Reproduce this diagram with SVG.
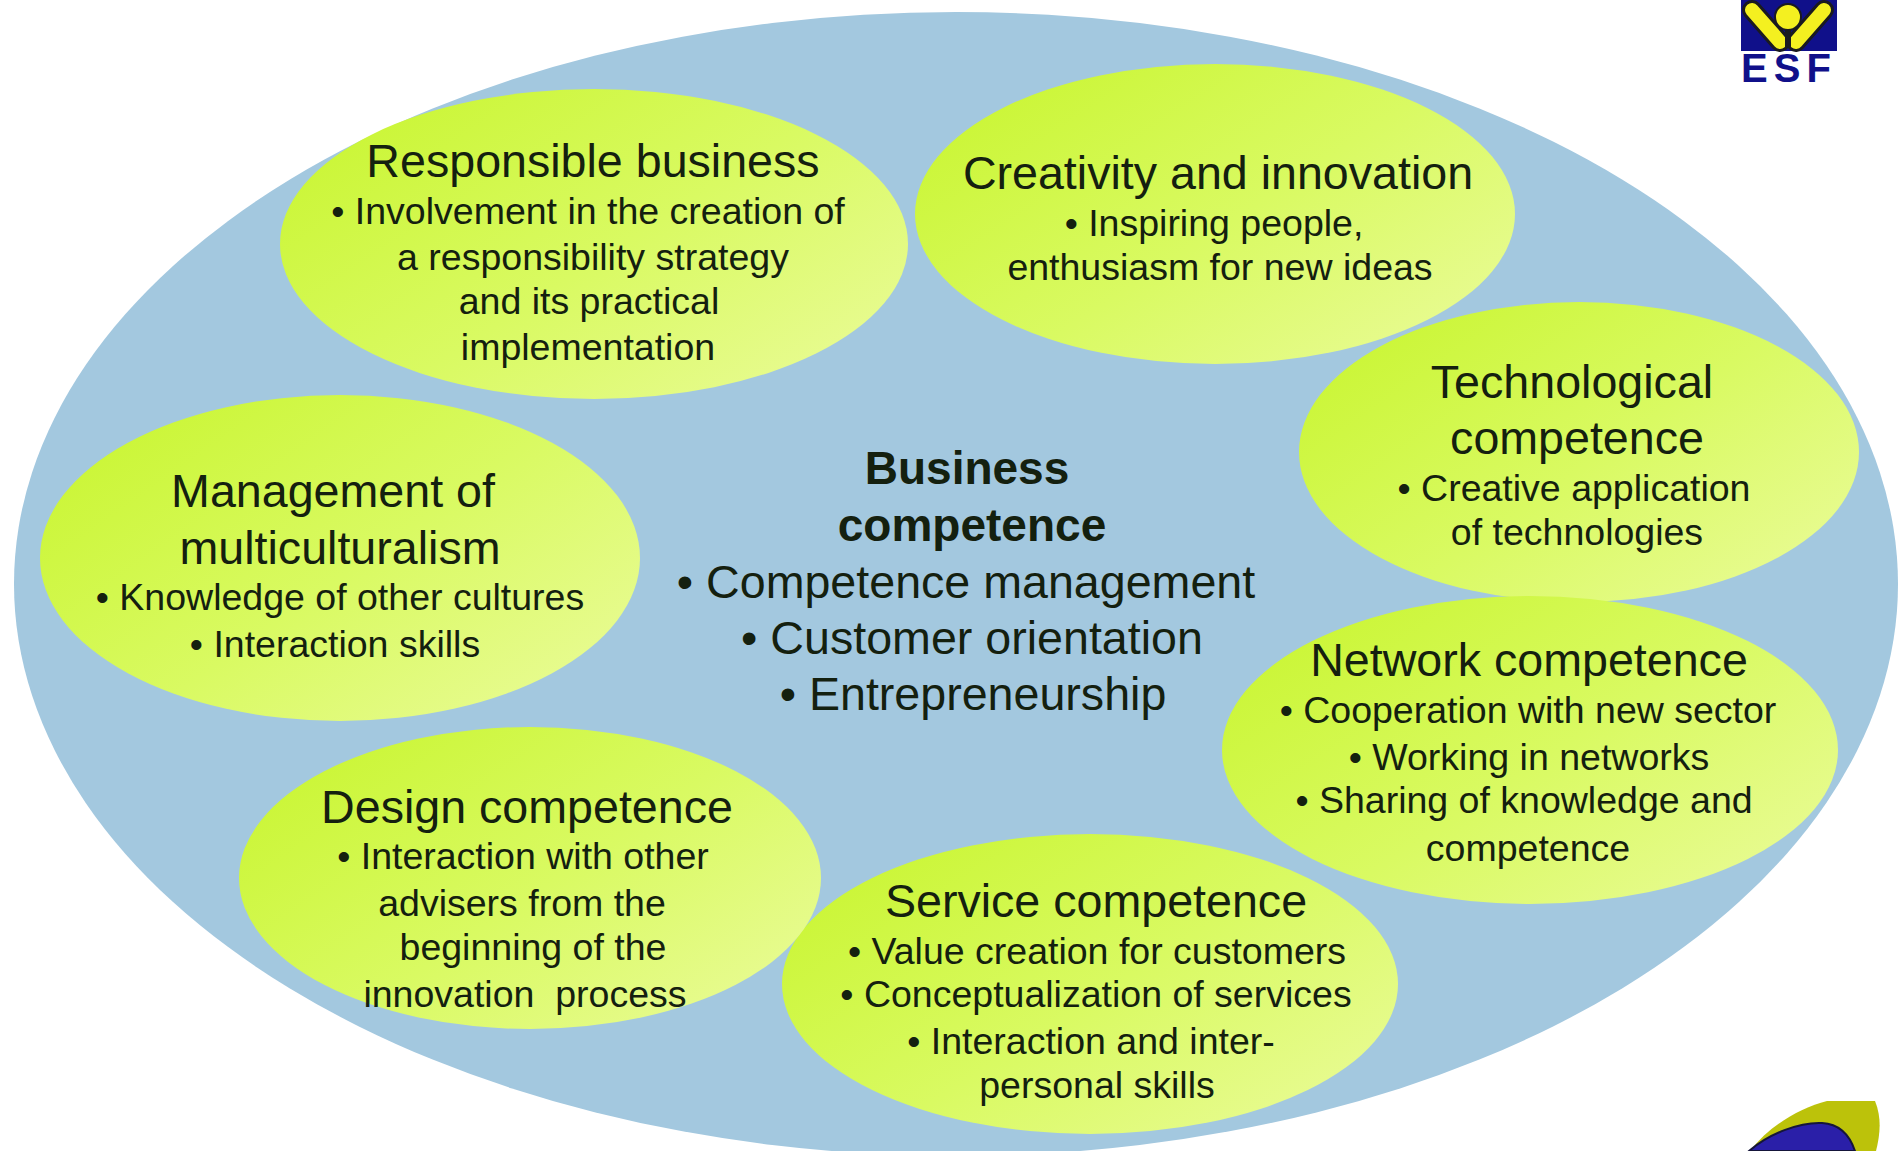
<svg xmlns="http://www.w3.org/2000/svg" width="1898" height="1151" viewBox="0 0 1898 1151">
<style>
text{font-family:"Liberation Sans",Arial,sans-serif;fill:#14200f;text-anchor:middle}
.t{font-size:46.6px}
.b{font-size:37.5px}
.c{font-size:46.6px}
.h{font-size:46px;font-weight:bold}
.n{fill:url(#g)}
</style>
<defs>
<linearGradient id="g" x1="0.1" y1="0.2" x2="0.95" y2="0.85">
<stop offset="0" stop-color="#ccf63a"/><stop offset="0.5" stop-color="#d9fa62"/><stop offset="1" stop-color="#e8fb92"/>
</linearGradient>
</defs>
<rect width="1898" height="1151" fill="#fff"/>
<ellipse id="outer" cx="956" cy="584" rx="942" ry="572" fill="#a3c8df"/>
<g id="connectors"></g>
<g id="center">
<text class="h" x="967" y="484">Business</text>
<text class="h" x="972" y="541">competence</text>
<text class="c" x="966" y="598">• Competence management</text>
<text class="c" x="972" y="654">• Customer orientation</text>
<text class="c" x="973" y="710">• Entrepreneurship</text>
</g>
<g id="responsible">
<ellipse class="n" cx="594" cy="244" rx="314" ry="155"/>
<text class="t" x="593" y="177">Responsible business</text>
<text class="b" x="588" y="224">• Involvement in the creation of</text>
<text class="b" x="593" y="270">a responsibility strategy</text>
<text class="b" x="589" y="314">and its practical</text>
<text class="b" x="588" y="360">implementation</text>
</g>
<g id="creativity">
<ellipse class="n" cx="1215" cy="214" rx="300" ry="150"/>
<text class="t" x="1218" y="189">Creativity and innovation</text>
<text class="b" x="1214" y="236">• Inspiring people,</text>
<text class="b" x="1220" y="280">enthusiasm for new ideas</text>
</g>
<g id="technological">
<ellipse class="n" cx="1579" cy="452" rx="280" ry="150"/>
<text class="t" x="1572" y="398">Technological</text>
<text class="t" x="1577" y="454">competence</text>
<text class="b" x="1574" y="501">• Creative application</text>
<text class="b" x="1577" y="545">of technologies</text>
</g>
<g id="network">
<ellipse class="n" cx="1530" cy="750" rx="308" ry="154"/>
<text class="t" x="1529" y="676">Network competence</text>
<text class="b" x="1528" y="723">• Cooperation with new sector</text>
<text class="b" x="1529" y="770">• Working in networks</text>
<text class="b" x="1524" y="813">• Sharing of knowledge and</text>
<text class="b" x="1528" y="861">competence</text>
</g>
<g id="service">
<ellipse class="n" cx="1090" cy="984" rx="308" ry="150"/>
<text class="t" x="1096" y="917">Service competence</text>
<text class="b" x="1097" y="964">• Value creation for customers</text>
<text class="b" x="1096" y="1007">• Conceptualization of services</text>
<text class="b" x="1091" y="1054">• Interaction and inter-</text>
<text class="b" x="1097" y="1098">personal skills</text>
</g>
<g id="design">
<ellipse class="n" cx="530" cy="878" rx="291" ry="151"/>
<text class="t" x="527" y="823">Design competence</text>
<text class="b" x="523" y="869">• Interaction with other</text>
<text class="b" x="522" y="916">advisers from the</text>
<text class="b" x="533" y="960">beginning of the</text>
<text class="b" x="525" y="1007" xml:space="preserve">innovation  process</text>
</g>
<g id="management">
<ellipse class="n" cx="340" cy="558" rx="300" ry="163"/>
<text class="t" x="333" y="507">Management of</text>
<text class="t" x="340" y="564">multiculturalism</text>
<text class="b" x="340" y="610">• Knowledge of other cultures</text>
<text class="b" x="335" y="657">• Interaction skills</text>
</g>
<g id="esf-logo">
<rect x="1741" y="0" width="96" height="51" fill="#10108a"/>
<path d="M1752 10L1780 42M1824 10L1796 42" stroke="#1a1a20" stroke-width="20" stroke-linecap="round"/>
<path d="M1752 10L1780 42M1824 10L1796 42" stroke="#f4f020" stroke-width="14" stroke-linecap="round"/>
<circle cx="1788" cy="17" r="13" fill="#f4f020" stroke="#1a1a20" stroke-width="2"/>
<rect x="1785" y="30" width="6" height="18" fill="#1a1a20"/>
<text x="1786" y="82" font-size="40" font-weight="bold" style="fill:#10108a" textLength="90" lengthAdjust="spacing">ESF</text>
</g>
<g id="corner-logo">
<path d="M1750 1151C1770 1125 1800 1108 1827 1101L1875 1101C1882 1118 1880 1135 1876 1151Z" fill="#bcc20a"/>
<path d="M1749 1151C1770 1133 1800 1122 1822 1123C1840 1124 1850 1136 1855 1151Z" fill="#2a1fa8" stroke="#15153a" stroke-width="2"/>
</g>
</svg>
